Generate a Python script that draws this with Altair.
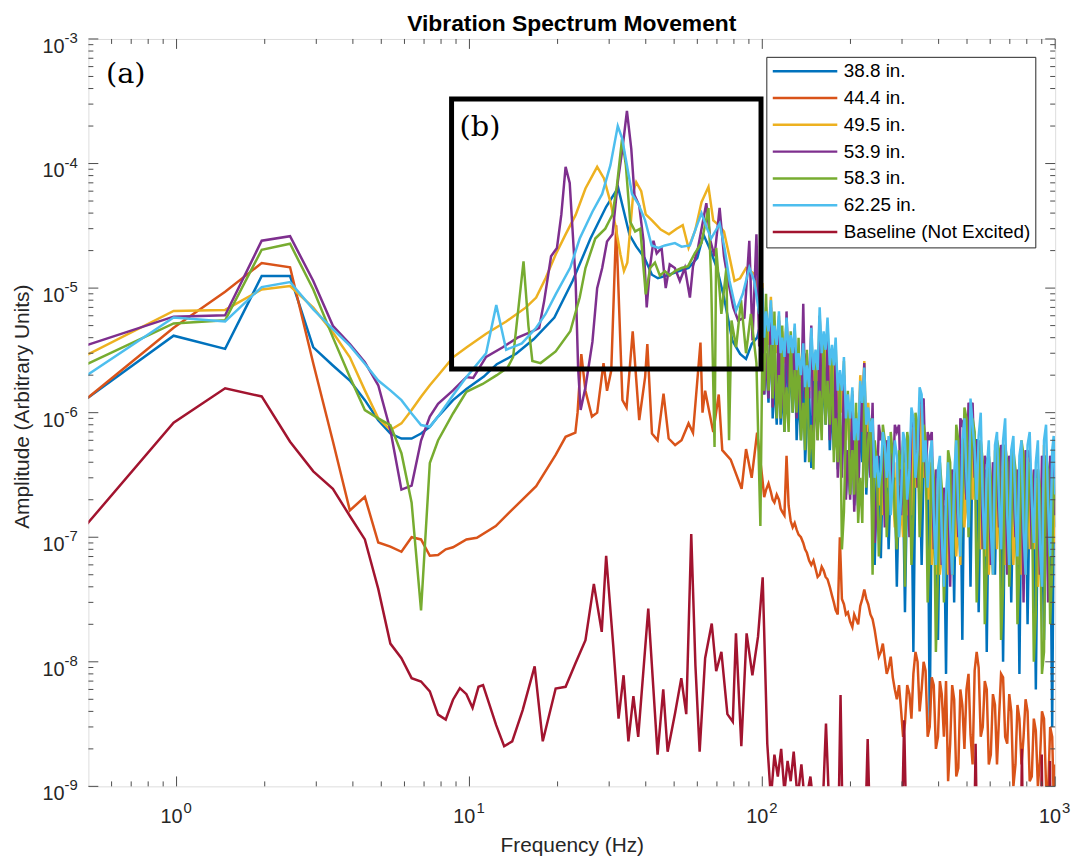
import altair as alt
import pandas as pd

FONT = "Liberation Sans"
TXT = "#262626"
AXC = "#4d4d4d"

TITLE = "Vibration Spectrum Movement"
NAMES = ["38.8 in.", "44.4 in.", "49.5 in.", "53.9 in.", "58.3 in.", "62.25 in.", "Baseline (Not Excited)"]
COLORS = ["#0072BD", "#D95319", "#EDB120", "#7E2F8E", "#77AC30", "#4DBEEE", "#A2142F"]

LOW_F = [0.488, 0.977, 1.465, 1.953, 2.441, 2.930, 3.418, 3.906, 4.395, 4.883,
         5.371, 5.859, 6.348, 6.836, 7.324, 7.813, 8.789, 9.766]

# high-frequency sample frequencies (Hz)
HI_F = [100, 103, 107, 110, 114, 117, 121, 125, 129, 133,
        138, 142, 147, 152, 157, 162, 167, 173, 178, 184,
        190, 196, 203, 209, 216, 223, 230, 238, 246, 254,
        262, 270, 279, 288, 298, 307, 318, 328, 339, 350,
        361, 373, 385, 398, 410, 424, 438, 452, 467, 482,
        498, 514, 531, 548, 566, 584, 603, 623, 643, 664,
        686, 708, 732, 755, 780, 805, 832, 859, 887, 916,
        946, 977, 1000]
HI2_F = [101.5, 105, 108.5, 112, 115.5, 119, 123, 127, 131, 135.5,
         140, 144.5, 149.5, 154.5, 159.5, 164.5, 170, 175.5, 181, 187,
         193, 199.5, 206, 212.5, 219.5, 226.5, 234, 242, 250, 258,
         266, 274.5, 283.5, 293, 302.5, 312.5, 323, 333.5, 344.5, 355.5,
         367, 379, 391.5, 404, 417, 431, 445, 459.5, 474.5, 490,
         506, 522.5, 539.5, 557, 575, 593.5, 613, 633, 653.5, 675,
         697, 720, 743.5, 767.5, 792.5, 818.5, 845.5, 873, 901.5, 931,
         961.5, 988.5]

# ---- 38.8 in. (blue)
BLUE_F = LOW_F + [11.2, 12.4, 14.4, 16.6, 19.5, 22.5, 25.9, 29.3, 32.2, 33.7,
                  35.2, 37.1, 39.6, 42.0, 44.0, 48.0, 52.0, 56.0, 60.0, 63.0,
                  66.0, 70.0, 74.0, 79.0, 84.0, 88.0, 92.0, 96.0]
BLUE_A = [1.27e-6, 4.15e-6, 3.25e-6, 1.25e-5, 1.25e-5, 3.34e-6, 2.39e-6, 1.81e-6, 1.26e-6, 8.7e-7,
          6.8e-7, 6.2e-7, 6.2e-7, 6.8e-7, 7.7e-7, 9.3e-7, 1.26e-6, 1.55e-6,
          1.95e-6, 2.45e-6, 2.96e-6, 3.9e-6, 5.8e-6, 1.14e-5, 2.5e-5, 4.5e-5, 6.4e-5, 4.1e-5,
          2.68e-5, 2.16e-5, 1.75e-5, 1.28e-5, 1.2e-5, 1.28e-5, 1.37e-5, 1.45e-5, 1.75e-5, 2.68e-5,
          2.1e-5, 1.45e-5, 8.4e-6, 3.8e-6, 2.96e-6, 2.7e-6, 3.56e-6, 4.0e-6]
BLUE_HI = [6e-6, 3e-6, 6.5e-6, 2.0e-6, 5e-6, 1.8e-6, 4.5e-6, 2.5e-6, 4.0e-6, 1.5e-6,
           3.0e-6, 8e-7, 3.6e-7, 2.0e-6, 4.5e-6, 2.0e-6, 3.5e-6, 1.2e-6, 2.5e-6, 8e-7,
           1.8e-6, 5e-7, 1.2e-6, 4e-7, 1.0e-6, 1.8e-6, 5e-7, 1.3e-7, 3.5e-7, 6.8e-8,
           3e-7, 8e-8, 2.5e-7, 4e-8, 2e-7, 2.5e-8, 2.5e-7, 1.2e-8, 4e-7, 6e-8,
           3e-7, 3.2e-9, 2e-7, 1.5e-8, 1.5e-7, 8e-9, 2e-7, 3e-8, 4e-7, 1.5e-8,
           5e-7, 4e-8, 6e-7, 2.5e-8, 3e-7, 1.2e-8, 2.5e-7, 5e-8, 3e-7, 1.0e-8,
           2.5e-7, 3e-8, 2e-7, 8e-9, 3e-7, 2e-8, 2e-7, 6e-9, 1.5e-7, 1.5e-8,
           2e-7, 3e-9, 1.2e-7]
BLUE_HI2 = [1.4e-6, 1.2e-6, 9e-7, 8e-7, 8e-7, 7e-7, 1.1e-6, 1.0e-6, 6e-7, 6e-7,
            4e-7, 1.5e-6, 2.5e-6, 9e-7, 9e-7, 8e-7, 5e-7, 5e-7, 3.5e-7, 3.5e-7,
            2.2e-7, 2.2e-7, 1.8e-7, 1.8e-7, 4e-7, 2.2e-7, 7e-7, 6e-8, 4.5e-7, 4e-7,
            3.5e-7, 3.2e-7, 3e-7, 2.6e-7, 2.4e-7, 3e-7, 3e-7, 4.5e-7, 4.5e-7, 3.5e-7,
            3.5e-7, 2.5e-7, 2.2e-7, 1.8e-7, 1.8e-7, 2.5e-7, 2.5e-7, 4.5e-7, 4.5e-7, 5.5e-7,
            5.5e-7, 6.5e-7, 6e-7, 3.5e-7, 3.5e-7, 3e-7, 3e-7, 3.5e-7, 3.2e-7, 3e-7,
            2.8e-7, 2.5e-7, 2.2e-7, 3.5e-7, 3.2e-7, 2.5e-7, 2.2e-7, 2e-7, 1.8e-7, 2.5e-7,
            2.2e-7, 1.6e-7]

# ---- 44.4 in. (orange)
ORANGE_F = [0.488, 0.977, 1.465, 1.953, 2.441, 2.930, 3.418, 3.906, 4.395, 4.883,
            5.371, 5.859, 6.348, 6.836, 7.324, 7.813, 8.301, 8.789, 9.766, 10.6,
            12.3, 14.4, 16.9, 19.7, 21.3, 23.0, 23.4, 24.1, 24.9, 26.2,
            27.3, 28.7, 29.5, 30.5, 31.7, 33.3, 34.4, 36.1, 38.0, 39.8,
            40.5, 42.0, 43.9, 46.0, 47.9, 50.4, 53.0, 56.0, 58.0, 61.5,
            62.5, 63.8, 68.0, 71.0, 73.0, 78.0, 85.0, 88.0, 92.0, 96.0]
ORANGE_A = [1.27e-6, 4.8e-6, 9.35e-6, 1.59e-5, 1.47e-5, 2.48e-6, 5.9e-7, 1.64e-7, 2.11e-7, 9.07e-8,
            8.4e-8, 7.64e-8, 1.0e-7, 9.6e-8, 7.1e-8, 7.2e-8, 8.0e-8, 8.3e-8, 9.6e-8, 9.9e-8,
            1.23e-7, 1.78e-7, 2.57e-7, 4.58e-7, 6.4e-7, 6.9e-7, 1.0e-6, 2.95e-6, 1.5e-6, 9.3e-7,
            1.0e-6, 2.5e-6, 1.5e-6, 2.18e-6, 3.2e-5, 1.26e-6, 1.1e-6, 4.5e-6, 8.7e-7, 1.93e-6,
            3.56e-6, 6.8e-7, 6.0e-7, 1.42e-6, 6.2e-7, 5.5e-7, 6.0e-7, 8.2e-7, 6.9e-7, 3.66e-6,
            1.0e-6, 1.5e-6, 7.0e-7, 1.4e-6, 5.0e-7, 4.2e-7, 2.45e-7, 5.1e-7, 3.0e-7, 6.9e-7]
ORANGE_HI = [3.0e-7, 2.4e-7, 2.3e-7, 1.9e-7, 2.0e-7, 1.6e-7, 4.5e-7, 1.35e-7, 1.3e-7, 1.05e-7,
             9e-8, 7.5e-8, 6.0e-8, 5.6e-8, 5.0e-8, 5.4e-8, 4.6e-8, 3.4e-8, 2.6e-8, 1.0e-7,
             2.9e-8, 2.5e-8, 1.9e-8, 2.2e-8, 2.8e-8, 3.8e-8, 2.9e-8, 2.2e-8, 1.4e-8, 1.2e-8,
             1.05e-8, 9e-9, 7.5e-9, 5e-9, 4e-9, 3.2e-9, 5.5e-9, 8e-9, 1.0e-8, 6e-9,
             8.5e-9, 3e-9, 6.5e-9, 2.5e-9, 5.5e-9, 7e-9, 2.2e-9, 5e-9, 1.4e-9, 4.5e-9,
             6e-9, 2.6e-9, 8.5e-9, 9e-9, 3e-9, 6e-9, 1.8e-9, 4.5e-9, 3.5e-9, 7.5e-9,
             2.2e-9, 4e-9, 1.5e-9, 3.5e-9, 2.5e-9, 4e-9, 1.2e-9, 2.8e-9, 1.6e-9, 3.5e-9,
             9e-10, 2.5e-9, 1.5e-9]
ORANGE_HI2 = [2.1e-7, 2.7e-7, 2.0e-7, 2.2e-7, 1.7e-7, 1.5e-7, 1.8e-7, 1.2e-7, 1.15e-7, 1.0e-7,
              8e-8, 6.5e-8, 6.5e-8, 4.8e-8, 5.8e-8, 4.8e-8, 4.0e-8, 3.0e-8, 2.4e-8, 3.2e-8,
              2.4e-8, 2.1e-8, 2.4e-8, 2.0e-8, 3.2e-8, 3.2e-8, 2.4e-8, 1.8e-8, 1.1e-8, 1.4e-8,
              8e-9, 1.1e-8, 6e-9, 6.5e-9, 2.5e-9, 6.5e-9, 3.5e-9, 1.2e-8, 4e-9, 1.0e-8,
              2.5e-9, 7.5e-9, 2e-9, 7e-9, 2.5e-9, 1.1e-9, 6.5e-9, 1.2e-9, 6e-9, 2e-9,
              8e-9, 1.5e-9, 1.2e-8, 2.5e-9, 7e-9, 1.5e-9, 5.5e-9, 1.5e-9, 8e-9, 2.5e-9,
              5.5e-9, 1.0e-9, 4.5e-9, 1.5e-9, 5e-9, 1.1e-9, 3.5e-9, 1.0e-9, 4e-9, 1.0e-9,
              3e-9, 8e-10]

# ---- 49.5 in. (yellow)
YELLOW_F = LOW_F + [11.4, 13.35, 15.6, 16.9, 18.2, 19.7, 21.3, 23.05, 24.9, 27.3,
                    28.8, 30.3, 31.5, 32.8, 33.7, 34.6, 35.5, 36.3, 37.1, 38.6,
                    40.0, 42.0, 45.0, 48.0, 51.0, 53.5, 56.0, 59.0, 62.0, 65.5,
                    68.0, 71.0, 74.0, 77.0, 80.4, 84.0, 88.0, 94.0, 98.0]
YELLOW_A = [2.87e-6, 6.56e-6, 6.68e-6, 9.76e-6, 1.04e-5, 6.97e-6, 4.4e-6, 2.78e-6, 1.51e-6, 9.0e-7,
            7.26e-7, 8.2e-7, 1.05e-6, 1.34e-6, 1.66e-6, 1.99e-6, 2.78e-6, 3.34e-6,
            4.3e-6, 5.4e-6, 7.0e-6, 8.4e-6, 1.2e-5, 1.86e-5, 2.7e-5, 3.87e-5, 6.3e-5, 9.4e-5,
            7.6e-5, 4.9e-5, 3.2e-5, 1.85e-5, 1.37e-5, 1.6e-5, 3.2e-5, 6.0e-5, 7.1e-5, 6.0e-5,
            3.9e-5, 3.5e-5, 2.95e-5, 2.7e-5, 3.0e-5, 3.2e-5, 2.1e-5, 2.9e-5, 4.9e-5, 6.5e-5,
            3.5e-5, 3.2e-5, 2.85e-5, 1.85e-5, 1.14e-5, 1.2e-5, 1.45e-5, 1.3e-5, 8.4e-6]
YELLOW_HI = [1.1e-5, 7e-6, 8.5e-6, 5.5e-6, 6e-6, 4.5e-6, 5.5e-6, 3.5e-6, 4.8e-6, 3.2e-6,
             4.0e-6, 2.6e-6, 4.2e-6, 3.0e-6, 6.0e-6, 4.0e-6, 5.0e-6, 3.0e-6, 3.5e-6, 2.0e-6,
             2.6e-6, 1.2e-6, 1.5e-6, 1.0e-6, 2.0e-6, 2.6e-6, 1.2e-6, 8e-7, 4e-7, 3e-7,
             5e-7, 6e-7, 2.5e-7, 4e-7, 1.8e-7, 5e-7, 3e-7, 8e-7, 4e-7, 1.3e-6,
             5e-7, 4e-7, 1.2e-7, 3e-7, 9e-8, 2e-7, 1.0e-7, 3e-7, 1.4e-7, 5.5e-7,
             2.5e-7, 1.2e-6, 4.5e-7, 6e-7, 1.6e-7, 3e-7, 1.0e-7, 5e-7, 1.8e-7, 5.5e-7,
             1.3e-7, 4.5e-7, 1.4e-7, 4e-7, 1.0e-7, 5e-7, 1.8e-7, 3.5e-7, 8e-8, 5.5e-7,
             1.5e-7, 4.5e-7, 2e-7]
YELLOW_HI2 = [4e-6, 3.5e-6, 3e-6, 3e-6, 2.5e-6, 2.5e-6, 2e-6, 2e-6, 1.8e-6, 1.8e-6,
              1.5e-6, 1.5e-6, 1.8e-6, 1.8e-6, 2.2e-6, 2e-6, 1.6e-6, 1.5e-6, 1.0e-6, 1.0e-6,
              6e-7, 7e-7, 5e-7, 5e-7, 1.0e-6, 6e-7, 5e-7, 3e-7, 1.8e-7, 1.5e-7,
              2.5e-7, 2e-7, 1.2e-7, 1.0e-7, 1.0e-7, 1.5e-7, 1.5e-7, 2.5e-7, 2e-7, 3e-7,
              2e-7, 6e-8, 5e-8, 5e-8, 4e-8, 5e-8, 5e-8, 7e-8, 6e-8, 1.2e-7,
              1.2e-7, 2e-7, 2e-7, 8e-8, 7e-8, 5e-8, 5e-8, 8e-8, 8e-8, 6e-8,
              6e-8, 6e-8, 6e-8, 5e-8, 5e-8, 8e-8, 8e-8, 4e-8, 4e-8, 7e-8,
              7e-8, 9e-8]

# ---- 53.9 in. (purple)
PURPLE_F = LOW_F + [10.3, 11.4, 13.0, 14.6, 16.4, 17.3, 18.0, 19.0, 19.9, 20.6,
                    21.3, 22.0, 23.05, 23.5, 23.97, 24.9, 26.3, 27.3, 28.4, 29.5,
                    30.8, 32.1, 33.3, 34.5, 35.7, 36.6, 38.0, 39.3, 40.3, 41.4,
                    42.5, 43.6, 45.3, 46.8, 48.3, 50.3, 52.3, 54.4, 56.6, 58.0,
                    60.3, 64.4, 66.5, 68.7, 71.5, 74.0, 76.7, 79.6, 82.7, 86.9,
                    90.3, 92.6, 95.5, 97.6]
PURPLE_A = [3.45e-6, 5.9e-6, 6.05e-6, 2.4e-5, 2.61e-5, 1.14e-5, 4.98e-6, 3.56e-6, 2.54e-6, 1.66e-6,
            7.26e-7, 2.41e-7, 2.6e-7, 5.98e-7, 9.3e-7, 1.18e-6, 1.51e-6, 1.93e-6,
            1.9e-6, 2.8e-6, 3.35e-6, 4.0e-6, 4.5e-6, 4.8e-6, 7.9e-6, 1.8e-5, 2.1e-5, 3.9e-5,
            9.4e-5, 7.0e-5, 1.14e-5, 2.3e-6, 1.05e-6, 1.6e-6, 3.7e-6, 1.0e-5, 1.45e-5, 2.37e-5,
            2.7e-5, 7.1e-5, 1.31e-4, 2.65e-4, 1.31e-4, 5.6e-5, 4.6e-5, 2.4e-5, 7.0e-6, 1.5e-5,
            2.4e-5, 1.9e-5, 2.1e-5, 1.0e-5, 1.55e-5, 1.45e-5, 1.14e-5, 1.45e-5, 8.4e-6, 1.5e-5,
            2.1e-5, 4.8e-5, 2.4e-5, 1.8e-5, 4.4e-5, 1.8e-5, 1.1e-5, 7.0e-6, 5.5e-6, 5.8e-6,
            2.4e-5, 3.8e-6, 2.7e-5, 3.4e-6]
PURPLE_HI = [8e-6, 3e-6, 7e-6, 2.5e-6, 5.5e-6, 2.0e-6, 6.5e-6, 3.5e-6, 4.5e-6, 2.0e-6,
             7.5e-6, 3.0e-6, 5.0e-6, 1.5e-6, 6.0e-6, 2.5e-6, 4.0e-6, 1.5e-6, 3.0e-6, 7e-7,
             2.0e-6, 5e-7, 1.4e-6, 4e-7, 1.6e-6, 2.5e-6, 7e-7, 1.2e-6, 2e-7, 6e-7,
             1.2e-7, 5e-7, 2.5e-7, 7e-7, 1.5e-7, 4e-7, 1.0e-7, 8e-7, 2.5e-7, 1.2e-6,
             3e-7, 6e-7, 8e-8, 3e-7, 6e-8, 2e-7, 4e-8, 3e-7, 1.0e-7, 8e-7,
             2e-7, 1.1e-6, 3e-7, 5e-7, 8e-8, 4e-7, 6e-8, 3.5e-7, 1.2e-7, 5e-7,
             5e-8, 4e-7, 1.0e-7, 3e-7, 3e-8, 4.5e-7, 8e-8, 3e-7, 5e-8, 4e-7,
             3e-8, 4e-7, 1.5e-7]
PURPLE_HI2 = [1.4e-6, 1.3e-6, 1.1e-6, 1.1e-6, 9e-7, 9e-7, 1.6e-6, 1.6e-6, 9e-7, 9e-7,
              1.3e-6, 1.3e-6, 6e-7, 6e-7, 1.1e-6, 1.0e-6, 6e-7, 6e-7, 3e-7, 3e-7,
              2e-7, 2e-7, 1.6e-7, 1.6e-7, 7e-7, 3e-7, 3e-7, 9e-8, 8e-7, 7e-7,
              6e-7, 6e-7, 8e-7, 8e-7, 5e-7, 5e-7, 9e-7, 9e-7, 1.3e-6, 1.3e-6,
              7e-7, 7e-7, 3.5e-7, 3.5e-7, 2.5e-7, 2.5e-7, 3.5e-7, 3.5e-7, 9e-7, 9e-7,
              1.2e-6, 1.2e-6, 6e-7, 6e-7, 4.5e-7, 4.5e-7, 4e-7, 4e-7, 5.5e-7, 5.5e-7,
              4.5e-7, 4.5e-7, 3.5e-7, 3.5e-7, 5e-7, 5e-7, 3.5e-7, 3.5e-7, 4.5e-7, 4.5e-7,
              4.5e-7, 4.5e-7]

# ---- 58.3 in. (green)
GREEN_F = LOW_F + [11.1, 12.4, 13.5, 14.1, 14.8, 15.3, 15.9, 16.4, 17.5, 19.7,
                   22.1, 23.8, 24.9, 26.9, 29.1, 30.8, 31.9, 33.2, 34.2, 35.4,
                   36.8, 38.3, 40.0, 41.4, 43.0, 44.7, 46.5, 48.3, 50.3, 53.0,
                   55.8, 58.8, 62.0, 65.5, 66.9, 68.7, 69.6, 72.5, 75.4, 77.0,
                   78.5, 81.4, 84.6, 88.0, 91.4, 95.5, 98.5]
GREEN_A = [2.42e-6, 5.2e-6, 5.52e-6, 2.03e-5, 2.27e-5, 9.76e-6, 4.02e-6, 1.93e-6, 1.05e-6, 9.0e-7,
           7.95e-7, 4.73e-7, 1.89e-7, 2.59e-8, 3.94e-7, 5.98e-7, 9.85e-7, 1.47e-6,
           1.7e-6, 2.0e-6, 2.3e-6, 2.8e-6, 8.0e-6, 1.64e-5, 5.0e-6, 2.6e-6, 2.5e-6, 3.1e-6,
           4.5e-6, 8.4e-6, 1.45e-5, 2.5e-5, 3.0e-5, 3.9e-5, 6.7e-5, 1.58e-4, 9.7e-5, 3.4e-5,
           2.85e-5, 3.0e-5, 8.9e-6, 1.45e-5, 1.6e-5, 1.26e-5, 1.37e-5, 1.26e-5, 1.37e-5, 1.45e-5,
           1.5e-5, 1.9e-5, 2.3e-5, 4.4e-5, 1.14e-5, 5.3e-7, 2.1e-5, 6.2e-6, 1.45e-5, 6.0e-7,
           5.5e-6, 3.35e-6, 8.0e-6, 3.0e-6, 6.2e-6, 2.5e-6, 1.23e-7]
GREEN_HI = [3.0e-6, 9e-6, 3.5e-6, 6.5e-6, 2.0e-6, 5.0e-6, 1.6e-6, 4.5e-6, 2.2e-6, 4.0e-6,
            1.2e-6, 3.2e-6, 8e-7, 2.5e-6, 1.5e-6, 4.0e-6, 1.8e-6, 3.0e-6, 9e-7, 2.0e-6,
            1.6e-7, 1.5e-6, 5e-7, 1.2e-6, 3e-7, 1.4e-6, 6e-7, 5e-8, 4e-7, 1.5e-7,
            6e-7, 2.5e-7, 4.5e-7, 8e-8, 3.5e-7, 4e-8, 5e-7, 1.5e-7, 8e-7, 2.5e-7,
            6e-7, 9e-8, 3e-7, 5e-8, 2.5e-7, 8e-8, 4e-7, 1.2e-7, 6e-7, 2e-7,
            9e-7, 3e-7, 7e-7, 1.0e-7, 4e-7, 6e-8, 3e-7, 1.5e-7, 5e-7, 4e-8,
            4e-7, 1.2e-7, 3.5e-7, 6e-8, 4.5e-7, 1.5e-7, 3e-7, 2.5e-8, 2.5e-7, 1.2e-8,
            3.5e-7, 6e-8, 2e-7]
GREEN_HI2 = [1.5e-6, 1.5e-6, 1.3e-6, 9e-7, 9e-7, 7e-7, 7e-7, 1.0e-6, 1.0e-6, 6e-7,
             5e-7, 4e-7, 3.5e-7, 6e-7, 6e-7, 8e-7, 8e-7, 4e-7, 4e-7, 8e-8,
             8e-7, 2.2e-7, 2.2e-7, 1.3e-7, 1.3e-7, 2.5e-7, 9e-7, 6e-7, 7e-8, 8e-7,
             1.0e-7, 7e-7, 1.5e-7, 5e-7, 6e-7, 7e-7, 6e-8, 1.0e-6, 1.0e-7, 8e-7,
             3e-8, 4.5e-7, 1.2e-8, 4e-7, 3e-8, 5e-7, 5e-8, 8e-7, 7e-8, 1.1e-6,
             1.0e-7, 9e-7, 3e-8, 6e-7, 2e-8, 4.5e-7, 6e-8, 6e-7, 1.5e-8, 5.5e-7,
             4e-8, 5e-7, 2e-8, 6e-7, 6e-8, 4e-7, 1.0e-8, 3.5e-7, 8e-9, 4.5e-7,
             2e-8, 3e-7]

# ---- 62.25 in. (light blue)
LBLUE_F = LOW_F + [11.4, 12.35, 13.35, 15.1, 16.9, 18.2, 19.7, 22.1, 23.8, 26.3,
                   28.4, 30.3, 32.1, 33.2, 34.5, 35.9, 37.8, 39.8, 41.9, 44.2,
                   46.5, 50.3, 53.0, 56.6, 58.8, 62.0, 64.4, 66.9, 71.5, 74.3,
                   77.3, 81.4, 85.8, 90.3, 93.9, 97.6]
LBLUE_A = [1.96e-6, 5.8e-6, 5.4e-6, 1.02e-5, 1.12e-5, 6.76e-6, 4.69e-6, 3.45e-6, 2.47e-6, 1.81e-6,
           1.51e-6, 1.26e-6, 9.85e-7, 7.95e-7, 7.7e-7, 9.3e-7, 1.38e-6, 1.93e-6,
           3.0e-6, 7.3e-6, 3.2e-6, 3.6e-6, 4.8e-6, 6.2e-6, 8.9e-6, 1.46e-5, 2.5e-5, 4.1e-5,
           5.7e-5, 9.7e-5, 2.0e-4, 1.6e-4, 9.7e-5, 5.7e-5, 4.7e-5, 3.5e-5, 2.2e-5, 2.1e-5,
           2.2e-5, 2.3e-5, 2.15e-5, 2.2e-5, 2.85e-5, 4.0e-5, 3.1e-5, 2.5e-5, 3.3e-5, 2.1e-5,
           1.14e-5, 6.6e-6, 9.0e-6, 1.46e-5, 1.14e-5, 6.2e-6]
LBLUE_HI = [1.0e-5, 6.5e-6, 8.0e-6, 5.0e-6, 6.5e-6, 4.0e-6, 5.8e-6, 4.2e-6, 5.2e-6, 3.0e-6,
            3.6e-6, 2.4e-6, 4.8e-6, 3.2e-6, 7.0e-6, 4.5e-6, 5.8e-6, 3.5e-6, 4.0e-6, 2.2e-6,
            2.8e-6, 1.4e-6, 1.6e-6, 9e-7, 1.8e-6, 2.3e-6, 1.1e-6, 9e-7, 4.5e-7, 3.5e-7,
            5.5e-7, 6.5e-7, 3.0e-7, 4.5e-7, 2.2e-7, 6.0e-7, 3.5e-7, 9e-7, 5.0e-7, 1.4e-6,
            6.0e-7, 4.5e-7, 1.5e-7, 3.5e-7, 1.0e-7, 2.2e-7, 1.2e-7, 3.2e-7, 1.5e-7, 6.0e-7,
            3.0e-7, 1.3e-6, 5.0e-7, 6.5e-7, 1.8e-7, 3.5e-7, 1.2e-7, 5.5e-7, 2.0e-7, 6.0e-7,
            1.5e-7, 5.0e-7, 1.6e-7, 4.5e-7, 1.1e-7, 5.5e-7, 2.0e-7, 4.0e-7, 9e-8, 6.0e-7,
            1.8e-7, 5.0e-7, 2.2e-7]
LBLUE_HI2 = [4e-6, 4.5e-6, 3.5e-6, 3.5e-6, 3e-6, 2.8e-6, 3e-6, 3e-6, 2.2e-6, 2.0e-6,
             1.6e-6, 1.6e-6, 2.2e-6, 2.2e-6, 3e-6, 3.2e-6, 2.4e-6, 2.4e-6, 1.5e-6, 1.5e-6,
             9e-7, 9e-7, 6e-7, 6e-7, 1.2e-6, 8e-7, 7e-7, 3e-7, 2.5e-7, 7e-7,
             3e-7, 1.5e-7, 6e-7, 1.0e-7, 7e-7, 2e-7, 1.1e-6, 3e-7, 1.6e-6, 4e-7,
             2.5e-7, 6e-7, 6e-8, 4.5e-7, 4e-8, 4e-7, 5e-8, 6e-7, 7e-8, 9e-7,
             1.2e-7, 8e-7, 2e-7, 1.0e-6, 8e-8, 6e-7, 5e-8, 7e-7, 8e-8, 9e-7,
             6e-8, 6.5e-7, 7e-8, 6e-7, 5e-8, 7e-7, 9e-8, 6e-7, 4e-8, 8e-7,
             7e-8, 6.5e-7]

# ---- Baseline (dark red)
RED_F = [0.488, 0.977, 1.465, 1.953, 2.441, 2.930, 3.418, 3.906, 4.395, 4.883,
         5.371, 5.859, 6.348, 6.836, 7.324, 7.813, 8.301, 8.789, 9.277, 9.766,
         10.25, 10.74, 11.13, 12.34, 13.14, 14.0, 15.2, 16.7, 17.8, 19.7,
         21.3, 23.0, 24.9, 26.6, 28.3, 29.3, 31.0, 32.3, 33.6, 34.9,
         36.3, 37.7, 40.8, 43.9, 45.9, 47.5, 50.4, 52.9, 55.0, 57.2,
         59.1, 61.1, 63.8, 67.2, 69.6, 72.5, 76.0, 79.3, 81.3, 84.8,
         88.4, 92.5, 96.7, 100.3, 104, 107, 110, 113, 116, 119,
         122, 125, 128, 132, 136, 140, 146, 152, 160, 165,
         170, 182, 185, 188, 225, 229, 233, 300, 305, 310,
         530, 535, 540, 765, 770, 775, 895, 900, 905, 955,
         960, 965, 1000]
RED_A = [1.23e-7, 8.3e-7, 1.57e-6, 1.35e-6, 5.85e-7, 3.38e-7, 2.45e-7, 1.48e-7, 9.6e-8, 3.85e-8,
         1.4e-8, 1.07e-8, 7.39e-9, 6.95e-9, 5.79e-9, 3.77e-9, 3.44e-9, 4.96e-9, 6.15e-9, 5.5e-9,
         4.27e-9, 6.3e-9, 6.5e-9, 3.1e-9, 2.1e-9, 2.3e-9, 4.1e-9, 9.2e-9, 2.3e-9, 6.1e-9,
         6.3e-9, 9.7e-9, 1.49e-8, 4.22e-8, 1.74e-8, 7.1e-8, 1.32e-8, 3.5e-9, 7.8e-9, 2.3e-9,
         5.3e-9, 2.5e-9, 2.67e-8, 1.8e-9, 6.0e-9, 1.9e-9, 3.9e-9, 7.4e-9, 3.8e-9, 1.06e-7,
         9.4e-9, 1.9e-9, 1.07e-8, 2.03e-8, 8.4e-9, 1.2e-8, 3.8e-9, 3.3e-9, 1.69e-8, 2.1e-9,
         1.69e-8, 7.8e-9, 1.59e-8, 4.77e-8, 2.2e-9, 8e-10, 1.8e-9, 1.2e-9, 2.0e-9, 9e-10,
         1.6e-9, 1.1e-9, 1.9e-9, 8e-10, 1.5e-9, 7e-10, 1.2e-9, 5e-10, 5e-10, 3.2e-9,
         5e-10, 5e-10, 5.4e-9, 5e-10, 5e-10, 2.4e-9, 5e-10, 5e-10, 3.4e-9, 5e-10,
         5e-10, 2.2e-9, 5e-10, 5e-10, 2.0e-9, 5e-10, 5e-10, 1.8e-9, 5e-10, 5e-10,
         1.6e-9, 5e-10, 5e-10]

# annotation box (b) and labels
BOX_F = [8.69, 99.0]
BOX_A = [2.24e-6, 3.3e-4]
ANN_F = [0.574, 9.25]
ANN_A = [5.26e-4, 1.95e-4]
ANN_T = ["(a)", "(b)"]

# axis ticks / labels
X_MAJOR = [1, 10, 100, 1000]
X_EXP = ["0", "1", "2", "3"]
X_MINOR = [0.6, 0.7, 0.8, 0.9, 2, 3, 4, 5, 6, 7, 8, 9, 20, 30, 40, 50, 60, 70, 80, 90,
           200, 300, 400, 500, 600, 700, 800, 900]
Y_MAJOR = [1e-9, 1e-8, 1e-7, 1e-6, 1e-5, 1e-4, 1e-3]
Y_EXP = ["-9", "-8", "-7", "-6", "-5", "-4", "-3"]
Y_MINOR = [m * d for d in [1e-9, 1e-8, 1e-7, 1e-6, 1e-5, 1e-4] for m in [2, 3, 4, 5, 6, 7, 8, 9]]


def pairs(fs, vs):
    n = min(len(fs), len(vs))
    return list(zip(fs[:n], vs[:n]))


series = [
    (NAMES[0], pairs(BLUE_F, BLUE_A) + pairs(HI_F, BLUE_HI) + pairs(HI2_F, BLUE_HI2)),
    (NAMES[1], pairs(ORANGE_F, ORANGE_A) + pairs(HI_F, ORANGE_HI) + pairs(HI2_F, ORANGE_HI2)),
    (NAMES[2], pairs(YELLOW_F, YELLOW_A) + pairs(HI_F, YELLOW_HI) + pairs(HI2_F, YELLOW_HI2)),
    (NAMES[3], pairs(PURPLE_F, PURPLE_A) + pairs(HI_F, PURPLE_HI) + pairs(HI2_F, PURPLE_HI2)),
    (NAMES[4], pairs(GREEN_F, GREEN_A) + pairs(HI_F, GREEN_HI) + pairs(HI2_F, GREEN_HI2)),
    (NAMES[5], pairs(LBLUE_F, LBLUE_A) + pairs(HI_F, LBLUE_HI) + pairs(HI2_F, LBLUE_HI2)),
    (NAMES[6], pairs(RED_F, RED_A)),
]

xscale = alt.Scale(type="log", domain=[0.5, 1000], nice=False)
yscale = alt.Scale(type="log", domain=[1e-9, 1e-3], nice=False)
color = alt.Color(
    "s:N",
    scale=alt.Scale(domain=NAMES, range=COLORS),
    legend=alt.Legend(
        title=None, orient="none", legendX=683, legendY=18, padding=5,
        strokeColor=TXT, fillColor="white", labelFont=FONT, labelFontSize=19,
        labelColor="black", symbolType="stroke", symbolSize=4225,
        symbolStrokeWidth=2.5, clipHeight=19, rowPadding=7, labelOffset=5,
        symbolOffset=0, labelLimit=400,
    ),
)

layers = []
for i, (name, pts) in enumerate(series):
    pts = sorted(pts)
    df = pd.DataFrame({"s": name, "f": [p[0] for p in pts], "a": [p[1] for p in pts]})
    if i == 0:
        xe = alt.X("f:Q", scale=xscale, axis=alt.Axis(
            title="Frequency (Hz)", labels=False, ticks=False, domain=False, grid=False,
            titleFont=FONT, titleFontSize=21, titleFontWeight="normal", titleColor=TXT,
            titleY=66, titleBaseline="alphabetic"))
        ye = alt.Y("a:Q", scale=yscale, axis=alt.Axis(
            title="Amplitude (Arbitrary Units)", labels=False, ticks=False, domain=False,
            grid=False, titleFont=FONT, titleFontSize=21, titleFontWeight="normal",
            titleColor=TXT, titleX=-66, titleY=370, titleAngle=270,
            titleAlign="center", titleBaseline="middle"))
    else:
        xe = alt.X("f:Q")
        ye = alt.Y("a:Q")
    layers.append(
        alt.Chart(df).mark_line(clip=True, strokeWidth=2.5).encode(x=xe, y=ye, color=color)
    )

box = alt.Chart(pd.DataFrame({"f": [BOX_F[0]], "f2": [BOX_F[1]], "a": [BOX_A[0]], "a2": [BOX_A[1]]})).mark_rect(
    fillOpacity=0, stroke="black", strokeWidth=5
).encode(x="f:Q", x2="f2", y="a:Q", y2="a2")
layers.append(box)

ann = alt.Chart(pd.DataFrame({"f": ANN_F, "a": ANN_A, "t": ANN_T})).mark_text(
    align="left", baseline="middle", font="DejaVu Serif", fontSize=29, color="black"
).encode(x="f:Q", y="a:Q", text="t:N")
layers.append(ann)

# inward ticks on all four sides
xmaj = pd.DataFrame({"f": X_MAJOR})
xmin = pd.DataFrame({"f": X_MINOR})
ymaj = pd.DataFrame({"a": Y_MAJOR})
ymin = pd.DataFrame({"a": Y_MINOR})
for dfx, ln in [(xmaj, 10), (xmin, 5)]:
    layers.append(alt.Chart(dfx).mark_rule(color=AXC, strokeWidth=1, y2Offset=-ln).encode(
        x="f:Q", y=alt.datum(1e-9), y2=alt.datum(1e-9)))
    layers.append(alt.Chart(dfx).mark_rule(color=AXC, strokeWidth=1, y2Offset=ln).encode(
        x="f:Q", y=alt.datum(1e-3), y2=alt.datum(1e-3)))
for dfy, ln in [(ymaj, 10), (ymin, 5)]:
    layers.append(alt.Chart(dfy).mark_rule(color=AXC, strokeWidth=1, x2Offset=ln).encode(
        y="a:Q", x=alt.datum(0.5), x2=alt.datum(0.5)))
    layers.append(alt.Chart(dfy).mark_rule(color=AXC, strokeWidth=1, x2Offset=-ln).encode(
        y="a:Q", x=alt.datum(1000), x2=alt.datum(1000)))

# tick labels 10^n
xl = pd.DataFrame({"f": X_MAJOR, "e": X_EXP})
layers.append(alt.Chart(xl).mark_text(align="right", baseline="alphabetic", dx=6, dy=37,
                                      font=FONT, fontSize=20, color=TXT).encode(
    x="f:Q", y=alt.datum(1e-9), text=alt.value("10")))
layers.append(alt.Chart(xl).mark_text(align="left", baseline="alphabetic", dx=7, dy=27,
                                      font=FONT, fontSize=15, color=TXT).encode(
    x="f:Q", y=alt.datum(1e-9), text="e:N"))
yl = pd.DataFrame({"a": Y_MAJOR, "e": Y_EXP})
layers.append(alt.Chart(yl).mark_text(align="right", baseline="alphabetic", dx=-24, dy=14,
                                      font=FONT, fontSize=20, color=TXT).encode(
    y="a:Q", x=alt.datum(0.5), text=alt.value("10")))
layers.append(alt.Chart(yl).mark_text(align="left", baseline="alphabetic", dx=-24, dy=4,
                                      font=FONT, fontSize=15, color=TXT).encode(
    y="a:Q", x=alt.datum(0.5), text="e:N"))

# chart title, drawn as a text mark centred above the plot area
layers.append(alt.Chart(pd.DataFrame({"t": [TITLE]})).mark_text(
    align="center", baseline="alphabetic", font=FONT, fontSize=23, fontWeight="bold",
    color="black").encode(x=alt.value(487), y=alt.value(-8), text="t:N"))

chart = alt.layer(*layers).properties(
    width=974,
    height=753,
    autosize=alt.AutoSizeParams(type="none"),
    padding={"left": 81, "top": 28, "right": 22, "bottom": 74},
).configure_view(stroke=AXC, strokeWidth=1).configure(background="white")

chart.save("out.html", embed_options={"renderer": "svg", "actions": False})
